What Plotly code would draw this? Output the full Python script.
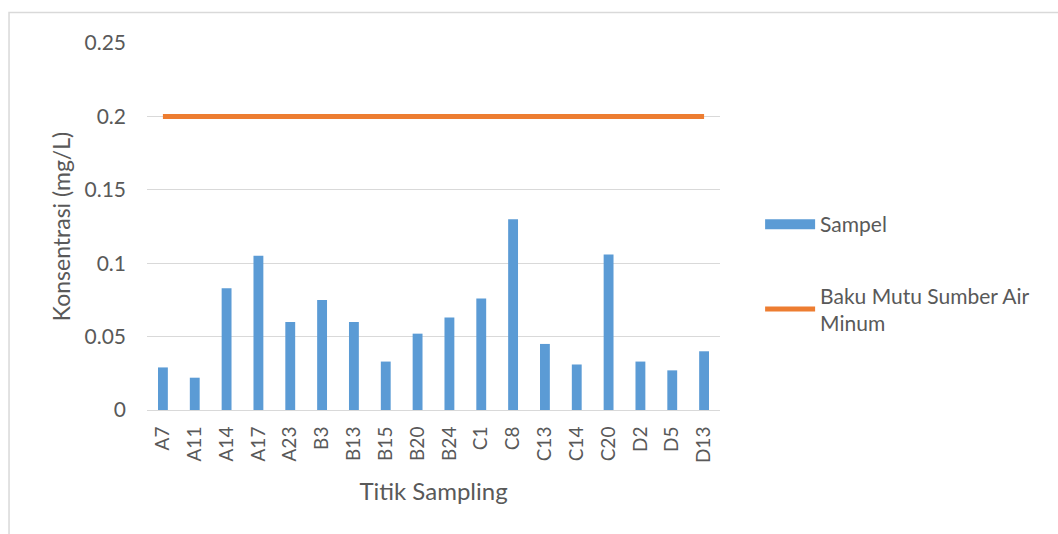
import plotly.graph_objects as go

# Sampling points and measured concentrations (mg/L)
titik = ["A7", "A11", "A14", "A17", "A23", "B3", "B13", "B15", "B20", "B24",
         "C1", "C8", "C13", "C14", "C20", "D2", "D5", "D13"]
sampel = [0.029, 0.022, 0.083, 0.105, 0.060, 0.075, 0.060, 0.033, 0.052, 0.063,
          0.076, 0.130, 0.045, 0.031, 0.106, 0.033, 0.027, 0.040]
# Drinking-water source quality standard (mg/L)
baku_mutu = [0.2] * len(titik)

y_ticks = [0, 0.05, 0.1, 0.15, 0.2, 0.25]
y_tick_text = ["0", "0.05", "0.1", "0.15", "0.2", "0.25"]

FONT = "Lato, 'Open Sans', sans-serif"
TEXT = "#595959"
GRID = "#d9d9d9"
BLUE = "#5B9BD5"
ORANGE = "#ED7D31"

fig = go.Figure()
fig.add_trace(go.Bar(
    x=titik, y=sampel, name="Sampel",
    marker=dict(color=BLUE, line=dict(width=0)),
    showlegend=False,
))
# wide block swatch for the bar series in the legend
fig.add_trace(go.Scatter(
    x=[None], y=[None], name="Sampel", mode="lines",
    line=dict(color=BLUE, width=14),
    legendgroup="a",
))
fig.add_trace(go.Scatter(
    x=titik, y=baku_mutu, name="Baku Mutu Sumber Air<br>Minum",
    mode="lines", line=dict(color=ORANGE, width=5),
    legendgroup="b",
))

fig.update_layout(
    width=1058, height=534,
    margin=dict(l=147, r=338, t=43, b=124),
    paper_bgcolor="white", plot_bgcolor="white",
    font=dict(family=FONT, color=TEXT, size=20),
    bargap=0.69,
    showlegend=True,
    legend=dict(
        x=1.07, y=0.372, xanchor="left", yanchor="middle",
        font=dict(size=21, color=TEXT),
        itemwidth=50, tracegroupgap=41,
        traceorder="grouped",
        bgcolor="rgba(0,0,0,0)",
    ),
    xaxis=dict(
        tickangle=-90, tickfont=dict(size=19, color=TEXT),
        showline=True, linecolor=GRID, linewidth=1,
        showgrid=False, ticks="",
        ticklabelstandoff=8,
        title=dict(text="Titik Sampling", font=dict(size=24, color=TEXT), standoff=21),
    ),
    yaxis=dict(
        range=[0, 0.25], tickvals=y_ticks, ticktext=y_tick_text,
        tickfont=dict(size=21, color=TEXT),
        showgrid=True, gridcolor=GRID, gridwidth=1,
        zeroline=False, showline=False, ticks="",
        ticklabelstandoff=20,
        title=dict(text="Konsentrasi (mg/L)", font=dict(size=23, color=TEXT), standoff=7),
    ),
    shapes=[dict(
        type="rect", xref="paper", yref="paper",
        x0=-0.2408, x1=1.62, y0=-0.5, y1=1.083,
        line=dict(color=GRID, width=1.5), fillcolor="rgba(0,0,0,0)", layer="below",
    )],
)

fig.write_html("out.html")
